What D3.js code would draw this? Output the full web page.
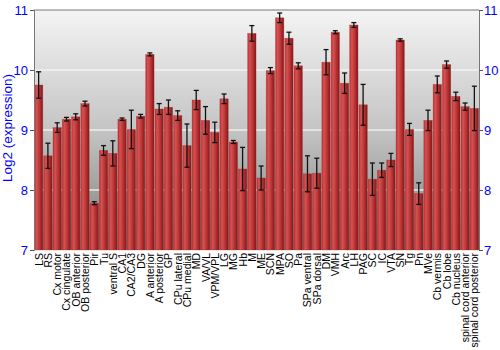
<!DOCTYPE html>
<html><head><meta charset="utf-8">
<script src="https://cdn.jsdelivr.net/npm/d3@7"></script>
<style>body{margin:0;background:#fff}svg{display:block}</style>
</head><body><svg id="c" width="500" height="350"></svg>
<script>
const categories = ["LS","RS","Cx motor","Cx cingulate","OB anterior","OB posterior","Pir","Tu","ventral S","CA1","CA2/CA3","DG","A anterior","A posterior","GP","CPu lateral","CPu medial","MD","VA/VL","VPM/VPL","LG","MG","Hb","M","ME","SCN","MPA","SO","Pa","SPa ventral","SPa dorsal","DM","VMH","Arc","LH","PAG","SC","IC","VTA","SN","Tg","Pn","MVe","Cb vermis","Cb lobe","Cb nucleus","spinal cord anterior","spinal cord posterior"];
const values = [9.75,8.57,9.04,9.18,9.22,9.44,7.78,8.66,8.61,9.18,9.01,9.23,10.26,9.35,9.38,9.24,8.74,9.5,9.16,8.96,9.52,8.8,8.35,10.61,8.2,9.99,10.87,10.53,10.07,8.27,8.28,10.13,10.63,9.78,10.75,9.42,8.18,8.33,8.5,10.5,9.01,7.94,9.16,9.76,10.09,9.56,9.39,9.36];
const errors = [0.22,0.21,0.08,0.03,0.05,0.04,0.025,0.08,0.21,0.02,0.32,0.03,0.025,0.09,0.12,0.08,0.36,0.16,0.23,0.17,0.08,0.025,0.36,0.13,0.2,0.05,0.08,0.1,0.05,0.3,0.25,0.21,0.025,0.17,0.04,0.34,0.27,0.12,0.11,0.02,0.1,0.18,0.17,0.14,0.06,0.07,0.06,0.37];
const yTicks = [7,8,9,10,11];
const yLabel = "Log2 (expression)";

const FONT = "Liberation Sans, Arial, sans-serif";
const svg = d3.select("#c");
const m = {l:34, r:21, t:10, b:100};
const W = 500 - m.l - m.r, H = 350 - m.t - m.b;
const x = d3.scaleBand().domain(categories).range([m.l, m.l + W]).paddingInner(0.1).paddingOuter(0.05);
const y = d3.scaleLinear().domain([7, 11]).range([m.t + H, m.t]);

const defs = svg.append("defs");
const bg = defs.append("linearGradient").attr("id","bg").attr("x1",0).attr("y1",0).attr("x2",0).attr("y2",1);
bg.append("stop").attr("offset","0%").attr("stop-color","#f4f4f4");
bg.append("stop").attr("offset","50%").attr("stop-color","#c4c4c4");
bg.append("stop").attr("offset","100%").attr("stop-color","#7c7c7c");
const bar = defs.append("linearGradient").attr("id","bar").attr("x1",0).attr("y1",0).attr("x2",1).attr("y2",0);
bar.append("stop").attr("offset","0%").attr("stop-color","#b83434");
bar.append("stop").attr("offset","25%").attr("stop-color","#d65252");
bar.append("stop").attr("offset","60%").attr("stop-color","#bb3535");
bar.append("stop").attr("offset","100%").attr("stop-color","#861717");

svg.append("rect").attr("x",m.l).attr("y",m.t).attr("width",W).attr("height",H).attr("fill","url(#bg)");

svg.append("g").selectAll("line").data([8,9,10]).join("line")
  .attr("x1",m.l).attr("x2",m.l+W).attr("y1",d=>y(d)).attr("y2",d=>y(d))
  .attr("stroke","#f4f4f4").attr("stroke-width",1.5).attr("stroke-opacity",0.85);

svg.append("g").selectAll("rect").data(categories).join("rect")
  .attr("x",d=>x(d)).attr("width",x.bandwidth())
  .attr("y",(d,i)=>y(values[i])).attr("height",(d,i)=>y(7)-y(values[i]))
  .attr("fill","url(#bar)").attr("stroke","#a02525").attr("stroke-opacity",0.5).attr("stroke-width",0.6);

const eg = svg.append("g").attr("stroke","#111").attr("stroke-width",1.3);
categories.forEach((c,i)=>{
  const cx = x(c) + x.bandwidth()/2;
  const y1 = y(values[i]+errors[i]), y2 = y(values[i]-errors[i]);
  eg.append("line").attr("x1",cx).attr("x2",cx).attr("y1",y1).attr("y2",y2);
  eg.append("line").attr("x1",cx-2.5).attr("x2",cx+2.5).attr("y1",y1).attr("y2",y1);
  eg.append("line").attr("x1",cx-2.5).attr("x2",cx+2.5).attr("y1",y2).attr("y2",y2);
});

svg.append("line").attr("x1",m.l).attr("x2",m.l+W).attr("y1",m.t).attr("y2",m.t).attr("stroke","#777").attr("stroke-width",1);

const left = svg.append("g").attr("transform",`translate(${m.l},0)`)
  .call(d3.axisLeft(y).tickValues(yTicks).tickSize(4).tickPadding(2).tickFormat(d3.format("d")));
const right = svg.append("g").attr("transform",`translate(${m.l+W},0)`)
  .call(d3.axisRight(y).tickValues(yTicks).tickSize(4).tickPadding(1).tickFormat(d3.format("d")));
[left,right].forEach(g=>{
  g.select(".domain").attr("stroke","#777");
  g.selectAll(".tick line").attr("stroke","#555");
  g.selectAll(".tick text").attr("fill","#0000ff").attr("font-family",FONT).attr("font-size",13);
});

svg.append("text").attr("transform",`translate(12,${m.t+H/2-2}) rotate(-90)`)
  .attr("text-anchor","middle").attr("fill","#0000ff")
  .attr("font-family",FONT).attr("font-size",13.5).text(yLabel);

svg.append("g").selectAll("text").data(categories).join("text")
  .attr("transform",d=>`translate(${x(d)+x.bandwidth()/2+4},${m.t+H+3}) rotate(-90)`)
  .attr("text-anchor","end").attr("fill","#000")
  .attr("font-family",FONT).attr("font-size",10.5).text(d=>d);
</script></body></html>
